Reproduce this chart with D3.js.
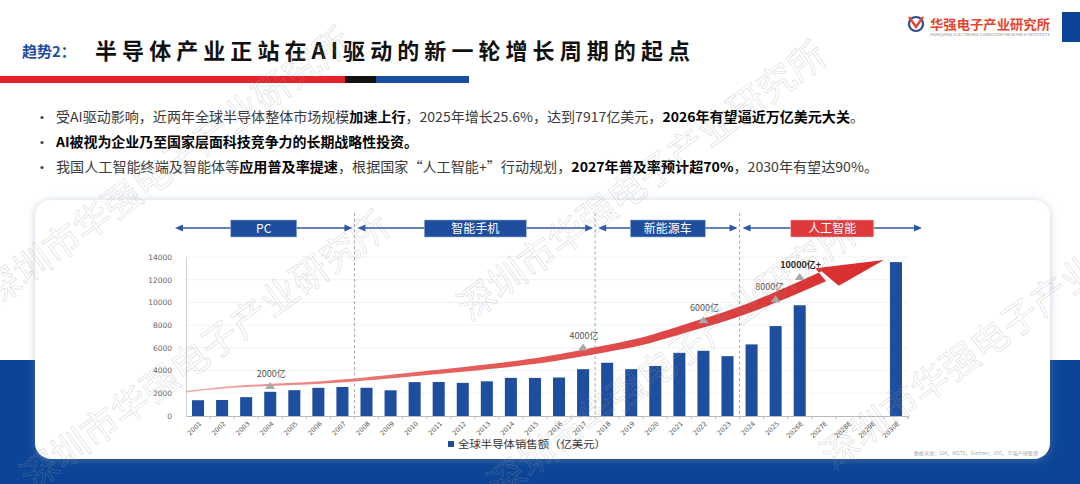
<!DOCTYPE html>
<html>
<head>
<meta charset="utf-8">
<script src="https://cdn.jsdelivr.net/npm/d3@7"></script>
<style>
  body { margin: 0; background: #fff; overflow: hidden; }
  svg { display: block; font-family: "Noto Sans CJK SC", "Noto Sans", sans-serif; }
</style>
</head>
<body>
<svg id="chart" width="1080" height="484"></svg>
<script>
// ---- data ----
const years = ['2001','2002','2003','2004','2005','2006','2007','2008','2009','2010',
  '2011','2012','2013','2014','2015','2016','2017','2018','2019','2020',
  '2021','2022','2023','2024','2025','2026E','2027E','2028E','2029E','2030E'];
const sales = [1390, 1410, 1660, 2130, 2275, 2480, 2556, 2486, 2263, 2983,
  2995, 2916, 3056, 3358, 3352, 3389, 4122, 4688, 4123, 4404,
  5559, 5741, 5269, 6305, 7917, 9750, null, null, null, 13550];
const yTicks = [0, 2000, 4000, 6000, 8000, 10000, 12000, 14000];

const phaseNames = ['PC', '智能手机', '新能源车', '人工智能'];
const phaseFrom = ['2001', '2008', '2018', '2024'];
const phaseTo = ['2007', '2017', '2023', '2030E'];

const milestoneLabels = ['2000亿', '4000亿', '6000亿', '8000亿', '10000亿+'];
const milestoneYears = ['2004', '2017', '2022', '2025', '2026E'];
const milestoneLevels = [2650, 6030, 8420, 10280, 12230];

// trend swoosh, in category index / value units
const trendPos = [-0.5, 1.3, 5.5, 9.6, 13.8, 16.3, 18.4, 20.4, 22.5, 24.6, 26.0];
const trendVals = [2130, 2540, 3010, 3810, 4780, 5670, 6560, 7800, 9200, 10990, 12300];
const trendTipPos = 28.5;
const trendTipVal = 13730;

const seriesName = '全球半导体销售额（亿美元）';
const sourceNote = '数据来源：SIA、WSTS、Gartner、IDC、华强产研整理';

// ---- styles ----
const blue = '#1f4e9f';
const darkBlue = '#0c4597';
const red = '#e0393b';
const phaseBoxW = [66, 102, 75, 83];

const svg = d3.select('#chart');
const defs = svg.append('defs');

// panel shadow
const shadow = defs.append('filter').attr('id', 'shadow')
  .attr('x', '-5%').attr('y', '-10%').attr('width', '110%').attr('height', '120%');
shadow.append('feDropShadow')
  .attr('dx', 0).attr('dy', 1).attr('stdDeviation', 4)
  .attr('flood-color', '#7f95b8').attr('flood-opacity', 0.45);

// swoosh gradient
const grad = defs.append('linearGradient').attr('id', 'swoosh')
  .attr('gradientUnits', 'userSpaceOnUse')
  .attr('x1', 186).attr('x2', 885).attr('y1', 0).attr('y2', 0);
grad.append('stop').attr('offset', 0).attr('stop-color', '#f2a9a6');
grad.append('stop').attr('offset', 0.35).attr('stop-color', '#e5625f');
grad.append('stop').attr('offset', 1).attr('stop-color', '#d82b2c');

// ---- page background ----
svg.append('rect').attr('x', 0).attr('y', 360).attr('width', 1080).attr('height', 124)
  .attr('fill', darkBlue);
svg.append('rect').attr('x', 1062).attr('y', 12).attr('width', 18).attr('height', 30)
  .attr('fill', darkBlue);

// ---- header ----
svg.append('text').attr('x', 22).attr('y', 57)
  .attr('font-size', 15).attr('font-weight', 700).attr('fill', blue)
  .text('趋势2：');
svg.append('text').attr('x', 95).attr('y', 59)
  .attr('font-size', 22).attr('font-weight', 700).attr('fill', '#111')
  .attr('textLength', 595).attr('lengthAdjust', 'spacing')
  .text('半导体产业正站在AI驱动的新一轮增长周期的起点');

svg.append('rect').attr('x', 0).attr('y', 76).attr('width', 345).attr('height', 7).attr('fill', '#e4232b');
svg.append('rect').attr('x', 345).attr('y', 76).attr('width', 31).attr('height', 7).attr('fill', '#111');
svg.append('rect').attr('x', 376).attr('y', 76).attr('width', 93).attr('height', 7).attr('fill', '#1b4fa2');

// logo
const logo = svg.append('g');
logo.append('circle').attr('cx', 916).attr('cy', 24).attr('r', 7)
  .attr('fill', 'none').attr('stroke', '#2a4d8f').attr('stroke-width', 2.2);
logo.append('path').attr('d', 'M909,17 L916,27 L923,17')
  .attr('fill', 'none').attr('stroke', '#e8432e').attr('stroke-width', 2.4);
logo.append('text').attr('x', 930).attr('y', 29)
  .attr('font-size', 13).attr('font-weight', 700).attr('fill', '#e8432e')
  .attr('textLength', 120).attr('lengthAdjust', 'spacingAndGlyphs')
  .text('华强电子产业研究所');
logo.append('text').attr('x', 930).attr('y', 35.5)
  .attr('font-size', 3.6).attr('fill', '#888')
  .attr('textLength', 120).attr('lengthAdjust', 'spacingAndGlyphs')
  .text('HUAQIANG ELECTRONICS INDUSTRY RESEARCH INSTITUTE');

// ---- bullets ----
const bullets = [
  { y: 122, len: 808, parts: [
    ['受AI驱动影响，近两年全球半导体整体市场规模', false], ['加速上行', true],
    ['，2025年增长25.6%，达到7917亿美元，', false], ['2026年有望逼近万亿美元大关', true], ['。', false]] },
  { y: 147, len: 362, parts: [['AI被视为企业乃至国家层面科技竞争力的长期战略性投资。', true]] },
  { y: 172, len: 822, parts: [
    ['我国人工智能终端及智能体等', false], ['应用普及率提速', true],
    ['，根据国家“人工智能+”行动规划，', false], ['2027年普及率预计超70%', true], ['，2030年有望达90%。', false]] }
];
bullets.forEach(b => {
  svg.append('circle').attr('cx', 42).attr('cy', b.y - 4.5).attr('r', 1.6).attr('fill', '#444');
  const t = svg.append('text').attr('x', 56).attr('y', b.y)
    .attr('font-size', 13.5).attr('fill', '#333')
    .attr('textLength', b.len).attr('lengthAdjust', 'spacingAndGlyphs');
  b.parts.forEach(([s, bold]) => {
    t.append('tspan').attr('font-weight', bold ? 700 : 400).attr('fill', bold ? '#000' : '#3a3a3a').text(s);
  });
});

// ---- chart panel ----
svg.append('rect').attr('x', 35).attr('y', 200).attr('width', 1015).attr('height', 259)
  .attr('rx', 16).attr('fill', '#fff').attr('filter', 'url(#shadow)');

const x = d3.scaleBand().domain(years).range([186, 908]).paddingInner(0.5).paddingOuter(0.25);
const y = d3.scaleLinear().domain([0, 14000]).range([416, 257]);
const cx = d => x(d) + x.bandwidth() / 2;
const xIdx = d3.scaleLinear().domain([0, years.length - 1]).range([cx(years[0]), cx(years[years.length - 1])]);
const edgeBefore = d => x(d) - x.step() * x.paddingInner() / 2;
const edgeAfter = d => x(d) + x.bandwidth() + x.step() * x.paddingInner() / 2;

// gridlines
const plot = svg.append('g');
plot.append('g').selectAll('line').data(yTicks.slice(1)).join('line')
  .attr('x1', 186).attr('x2', 908)
  .attr('y1', d => y(d)).attr('y2', d => y(d))
  .attr('stroke', '#efefef').attr('stroke-width', 0.8);

// y axis
const yAxis = plot.append('g').attr('transform', 'translate(186,0)')
  .call(d3.axisLeft(y).tickValues(yTicks).tickFormat(d3.format('d')).tickSize(0).tickPadding(14));
yAxis.select('.domain').attr('stroke', '#d0d0d0');
yAxis.selectAll('text').attr('font-family', '"DejaVu Sans", sans-serif')
  .attr('font-size', 7.5).attr('fill', '#666');

// x axis
const xAxis = plot.append('g').attr('transform', 'translate(0,416)')
  .call(d3.axisBottom(x).tickSize(3).tickSizeOuter(0));
xAxis.select('.domain').attr('stroke', '#bbb');
xAxis.selectAll('.tick line').attr('stroke', '#bbb')
  .attr('transform', `translate(${x.step() / 2},0)`);
xAxis.selectAll('text')
  .attr('font-family', '"DejaVu Sans", sans-serif').attr('font-size', 6.5).attr('fill', '#555')
  .attr('text-anchor', 'end').attr('dy', 0).attr('y', 0)
  .attr('transform', 'translate(4,8) rotate(-45)');

// phase dividers
const dividers = phaseFrom.slice(1).map(d => edgeBefore(d));
plot.append('g').selectAll('line').data(dividers).join('line')
  .attr('x1', d => d).attr('x2', d => d).attr('y1', 213).attr('y2', 416)
  .attr('stroke', '#aaa').attr('stroke-width', 1).attr('stroke-dasharray', '3,2.5');

// phase arrows
const arrowY = 228;
const head = (g, xTip, dir) => {
  g.append('path')
    .attr('d', `M${xTip},${arrowY} L${xTip - dir * 8},${arrowY - 3.5} L${xTip - dir * 8},${arrowY + 3.5} Z`)
    .attr('fill', '#2c58a6');
};
const phases = plot.append('g');
phaseNames.forEach((name, i) => {
  const x0 = i === 0 ? x.range()[0] - 11 : edgeBefore(phaseFrom[i]) + 3;
  const x1 = i === phaseNames.length - 1 ? x.range()[1] + 14 : edgeAfter(phaseTo[i]) - 2;
  phases.append('line').attr('x1', x0 + 2).attr('x2', x1 - 2).attr('y1', arrowY).attr('y2', arrowY)
    .attr('stroke', '#2c58a6').attr('stroke-width', 1.4);
  head(phases, x0, -1);
  head(phases, x1, 1);
  const mid = (x0 + x1) / 2;
  const last = i === phaseNames.length - 1;
  phases.append('rect').attr('x', mid - phaseBoxW[i] / 2).attr('y', 220)
    .attr('width', phaseBoxW[i]).attr('height', 17)
    .attr('fill', last ? red : blue)
    .attr('stroke', last ? '#f3b4b4' : '#9db3da').attr('stroke-width', 0.6);
  phases.append('text').attr('x', mid).attr('y', 233)
    .attr('text-anchor', 'middle').attr('font-size', 12).attr('fill', '#fff')
    .text(name);
});

// bars
plot.append('g').selectAll('rect').data(years.map((d, i) => ({ year: d, v: sales[i] })).filter(d => d.v != null))
  .join('rect')
  .attr('x', d => x(d.year)).attr('width', x.bandwidth())
  .attr('y', d => y(d.v)).attr('height', d => y(0) - y(d.v))
  .attr('fill', blue);

// trend swoosh: sample the curve, then widen it along its length
const trendPts = trendPos.map((p, i) => [xIdx(p), y(trendVals[i])]);
const guide = svg.append('path')
  .attr('d', d3.line().curve(d3.curveCatmullRom)(trendPts))
  .attr('fill', 'none').attr('stroke', 'none');
const total = guide.node().getTotalLength();
const n = 80;
const samples = d3.range(n + 1).map(k => guide.node().getPointAtLength(total * k / n));
const upper = [], lower = [];
samples.forEach((p, k) => {
  const a = samples[Math.max(0, k - 1)], b = samples[Math.min(n, k + 1)];
  const dx = b.x - a.x, dy = b.y - a.y, len = Math.hypot(dx, dy);
  const nx = -dy / len, ny = dx / len;
  const t = k / n;
  const w = 0.7 + 4.8 * Math.pow(t, 1.3);
  upper.push([p.x - nx * w, p.y - ny * w]);
  lower.push([p.x + nx * w, p.y + ny * w]);
});
const end = samples[n];
const tip = [xIdx(trendTipPos), y(trendTipVal)];
const hx = tip[0] - end.x, hy = tip[1] - end.y, hl = Math.hypot(hx, hy);
const ux = hx / hl, uy = hy / hl, px = -uy, py = ux;
const barbUp = [end.x + ux * 12 + px * 13, end.y + uy * 12 + py * 13];
const barbDown = [end.x - ux * 6 - px * 10, end.y - uy * 6 - py * 10];
const swoosh = [...upper, barbUp, tip, barbDown, ...lower.reverse()];
guide.remove();
plot.append('path')
  .attr('d', 'M' + swoosh.map(p => p.join(',')).join('L') + 'Z')
  .attr('fill', 'url(#swoosh)');

// milestone markers
const marks = plot.append('g');
milestoneLabels.forEach((lab, i) => {
  const mx = cx(milestoneYears[i]);
  const my = y(milestoneLevels[i]);
  marks.append('path')
    .attr('d', `M${mx - 5},${my + 3} L${mx},${my - 4} L${mx + 5},${my + 3} Z`)
    .attr('fill', '#a9a9a9');
  const bold = i === milestoneLabels.length - 1;
  marks.append('text')
    .attr('x', mx + (i === 3 ? -6 : 1)).attr('y', my - 9)
    .attr('text-anchor', 'middle')
    .attr('font-size', 9).attr('font-weight', bold ? 700 : 400)
    .attr('fill', bold ? '#222' : '#555')
    .text(lab);
});

// legend
svg.append('rect').attr('x', 448).attr('y', 441).attr('width', 6).attr('height', 6).attr('fill', blue);
svg.append('text').attr('x', 458).attr('y', 448)
  .attr('font-size', 10.5).attr('fill', '#333')
  .attr('textLength', 148).attr('lengthAdjust', 'spacingAndGlyphs')
  .text(seriesName);

// source note
svg.append('text').attr('x', 914).attr('y', 455)
  .attr('font-size', 5).attr('fill', '#aaa')
  .attr('textLength', 124).attr('lengthAdjust', 'spacingAndGlyphs')
  .text(sourceNote);

// ---- watermark ----
const wmStarts = [[-5, 308], [33, 492], [470, 322], [500, 500], [833, 470]];
svg.append('g').attr('pointer-events', 'none')
  .selectAll('text').data(wmStarts).join('text')
  .attr('transform', d => `translate(${d[0]},${d[1]}) rotate(-36)`)
  .attr('font-size', 37).attr('fill', 'none')
  .attr('stroke', '#9a9a9a').attr('stroke-width', 0.6).attr('stroke-opacity', 0.4)
  .text('深圳市华强电子产业研究所');
</script>
</body>
</html>
